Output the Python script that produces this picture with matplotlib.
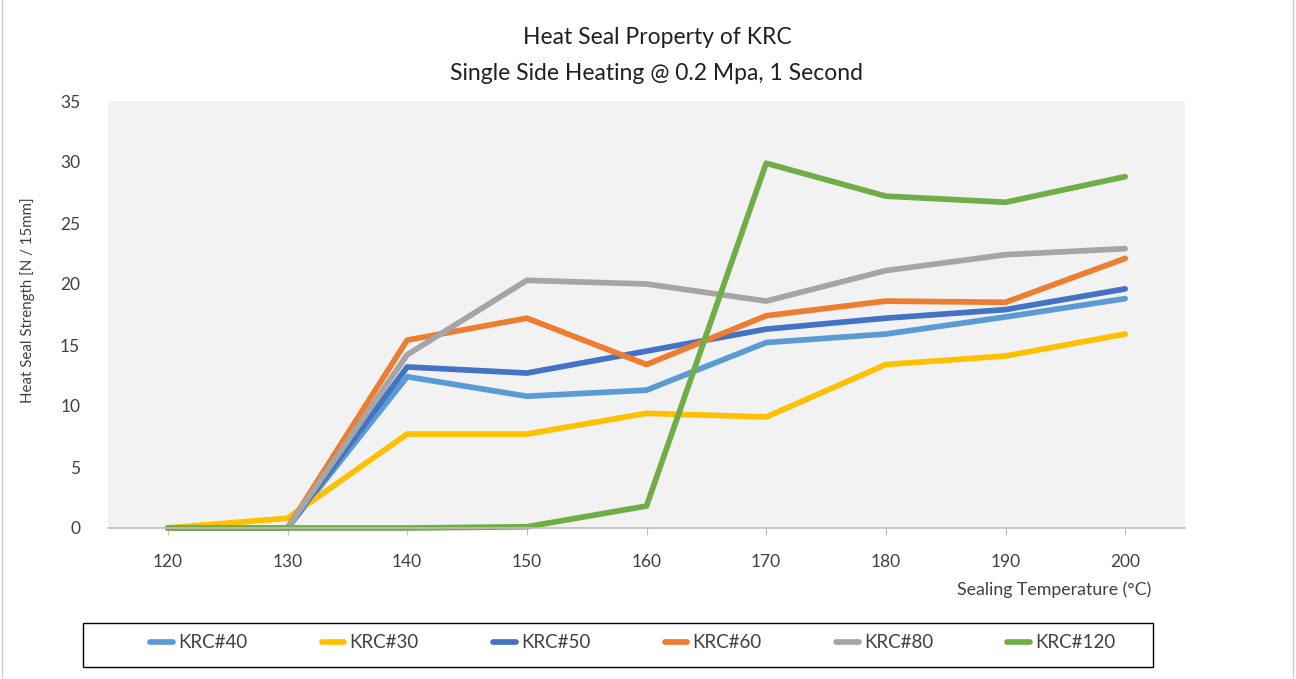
import matplotlib.pyplot as plt
from matplotlib.patches import Rectangle

temps = [120, 130, 140, 150, 160, 170, 180, 190, 200]
krc40 = [0, 0, 12.4, 10.8, 11.3, 15.2, 15.9, 17.3, 18.8]
krc30 = [0, 0.8, 7.7, 7.7, 9.4, 9.1, 13.4, 14.1, 15.9]
krc50 = [0, 0, 13.2, 12.7, 14.5, 16.3, 17.2, 17.9, 19.6]
krc60 = [0, 0, 15.4, 17.2, 13.4, 17.4, 18.6, 18.5, 22.1]
krc80 = [0, 0, 14.2, 20.3, 20.0, 18.6, 21.1, 22.4, 22.9]
krc120 = [0, 0, 0, 0.1, 1.8, 29.9, 27.2, 26.7, 28.8]

names = ['KRC#40', 'KRC#30', 'KRC#50', 'KRC#60', 'KRC#80', 'KRC#120']
colors = ['#5B9BD5', '#FFC000', '#4472C4', '#ED7D31', '#A5A5A5', '#70AD47']

plt.rcParams['font.family'] = ['Lato', 'DejaVu Sans']
text_col = '#404040'

W, H = 1296, 679
fig = plt.figure(figsize=(W / 100, H / 100), dpi=100)
ax = fig.add_axes([108 / W, 1 - 528 / H, (1185 - 108) / W, (528 - 101) / H])
ax.set_facecolor('#F2F2F2')

x = list(range(len(temps)))
for vals, name, c in zip([krc40, krc30, krc50, krc60, krc80, krc120], names, colors):
    ax.plot(x, vals, color=c, lw=4.1, solid_capstyle='round', solid_joinstyle='round',
            label=name, clip_on=False)

ax.set_xlim(-0.5, len(temps) - 0.5)
ax.set_ylim(0, 35)
ax.set_yticks(range(0, 36, 5))
ax.set_xticks(x)
ax.set_xticklabels([str(t) for t in temps])
for s in ['left', 'right', 'top']:
    ax.spines[s].set_visible(False)
ax.spines['bottom'].set_color('#BFBFBF')
ax.spines['bottom'].set_linewidth(1.2)
ax.tick_params(axis='y', length=0, pad=20, labelsize=12.5, labelcolor=text_col)
ax.tick_params(axis='x', length=5, color='#BFBFBF', pad=14, labelsize=12.5, labelcolor=text_col)

fig.text(657 / W, 1 - 37 / H, 'Heat Seal Property of KRC', ha='center', va='center',
         fontsize=16.5, color='#202020')
fig.text(657 / W, 1 - 73 / H, 'Single Side Heating @ 0.2 Mpa, 1 Second', ha='center',
         va='center', fontsize=16.5, color='#202020')
fig.text(28 / W, 1 - 300 / H, 'Heat Seal Strength [N / 15mm]', rotation=90, ha='center',
         va='center', fontsize=10.8, color=text_col)
fig.text(1151 / W, 1 - 590 / H, 'Sealing Temperature (°C)', ha='right', va='center',
         fontsize=12.8, color=text_col)

# legend box
fig.patches.append(Rectangle((83 / W, 1 - 667 / H), (1153 - 83) / W, (667 - 623) / H,
                             transform=fig.transFigure, fill=False, edgecolor='black', lw=1))
leg = fig.legend(loc='center', bbox_to_anchor=(633 / W, 1 - 643 / H), ncol=6, frameon=False,
                 handlelength=1.2, handletextpad=0.3, columnspacing=3.95, fontsize=13.5)
for t in leg.get_texts():
    t.set_color(text_col)
for h in leg.get_lines():
    h.set_linewidth(4.1)
    h.set_solid_capstyle('round')

# outer border
fig.patches.append(Rectangle((2 / W, -0.01), (W - 5) / W, 1.02, transform=fig.transFigure,
                             fill=False, edgecolor='#D0D0D0', lw=1))

fig.savefig('out.png', dpi=100)
